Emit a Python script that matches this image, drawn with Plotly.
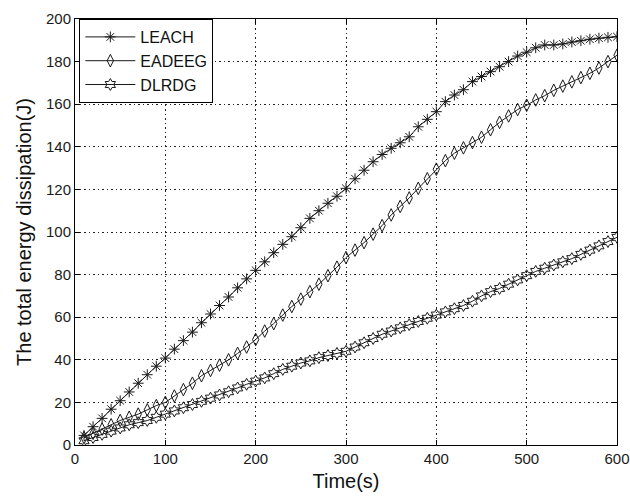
import plotly.graph_objects as go

# Time axis (s)
time_s = [10, 20, 30, 40, 50, 60, 70, 80, 90, 100,
          110, 120, 130, 140, 150, 160, 170, 180, 190, 200,
          210, 220, 230, 240, 250, 260, 270, 280, 290, 300,
          310, 320, 330, 340, 350, 360, 370, 380, 390, 400,
          410, 420, 430, 440, 450, 460, 470, 480, 490, 500,
          510, 520, 530, 540, 550, 560, 570, 580, 590, 600]

leach = [4.5, 8.6, 12.5, 16.8, 20.8, 24.9, 29.0, 33.0, 37.0, 40.8,
         45.0, 49.0, 53.0, 57.4, 61.5, 65.5, 69.5, 73.8, 78.0, 82.0,
         86.0, 90.3, 94.2, 97.8, 102.0, 106.4, 110.0, 113.5, 116.8, 120.5,
         125.0, 129.0, 133.0, 136.4, 139.3, 141.9, 144.7, 149.4, 152.9, 156.5,
         161.2, 164.3, 166.8, 170.6, 173.0, 175.3, 177.6, 180.0, 182.6, 184.4,
         186.5, 187.8, 187.8, 188.3, 189.2, 189.8, 190.5, 191.0, 191.4, 191.7]

eadeeg = [3.5, 5.5, 7.5, 9.5, 11.5, 13.0, 14.5, 16.5, 18.5, 20.0,
          23.0, 26.0, 29.0, 32.5, 35.0, 37.5, 40.0, 43.0, 46.0, 49.5,
          53.5, 57.0, 61.0, 65.0, 68.5, 72.0, 75.5, 79.5, 83.5, 88.0,
          91.5, 95.0, 99.0, 103.0, 108.0, 112.0, 116.0, 120.5, 125.0, 129.5,
          133.5, 137.0, 139.5, 142.0, 144.5, 148.0, 151.5, 154.5, 157.5, 159.5,
          162.0, 164.0, 166.5, 168.5, 170.5, 172.5, 174.5, 177.0, 180.0, 183.0]

dlrdg = [2.0, 3.5, 5.0, 6.5, 8.0, 9.5, 10.5, 11.5, 13.0, 14.5,
         16.0, 17.5, 19.0, 20.5, 22.0, 23.5, 25.0, 26.8, 28.5, 30.0,
         31.5, 33.5, 35.5, 37.0, 38.5, 39.5, 41.0, 42.0, 43.0, 44.0,
         46.0, 48.0, 50.0, 52.0, 53.5, 55.0, 56.5, 58.0, 59.5, 61.0,
         62.5, 64.0, 65.5, 67.5, 70.0, 72.0, 73.5, 75.5, 77.5, 79.5,
         81.5, 83.0, 84.5, 86.0, 87.5, 89.5, 91.5, 93.5, 95.5, 97.5]

x_ticks = [0, 100, 200, 300, 400, 500, 600]
y_ticks = [0, 20, 40, 60, 80, 100, 120, 140, 160, 180, 200]

FONT = "Liberation Sans, Arial, sans-serif"
INK = "#1a1a1a"

fig = go.Figure()
series = [
    ("LEACH", leach, "asterisk-open", 9),
    ("EADEEG", eadeeg, "diamond-tall-open", 9),
    ("DLRDG", dlrdg, "hexagram-open", 9),
]
for name, vals, sym, sz in series:
    fig.add_trace(go.Scatter(
        x=time_s, y=vals, name=name, mode="lines+markers",
        line=dict(color=INK, width=1),
        marker=dict(symbol=sym, size=sz, color=INK,
                    line=dict(color=INK, width=1)),
    ))

axis_common = dict(
    showline=True, linecolor="black", linewidth=1, mirror="ticks",
    ticks="inside", ticklen=5, tickcolor="black", tickwidth=1,
    showgrid=True, gridcolor="#222222", gridwidth=1, griddash="1.5px,3px",
    zeroline=False, automargin=False,
    tickfont=dict(family=FONT, size=15, color="#1a1a1a"),
)

fig.update_xaxes(range=[0, 600], tickvals=x_ticks,
                 title=dict(text="Time(s)", font=dict(family=FONT, size=20, color="#111111"),
                            standoff=7),
                 **axis_common)
fig.update_yaxes(range=[0, 200], tickvals=y_ticks,
                 title=dict(text="The total energy dissipation(J)",
                            font=dict(family=FONT, size=20, color="#111111"),
                            standoff=8),
                 **axis_common)

fig.update_layout(
    width=630, height=499,
    margin=dict(l=75, r=13, t=19, b=54),
    plot_bgcolor="white", paper_bgcolor="white",
    legend=dict(x=0.008, y=1.0, xanchor="left", yanchor="top",
                bgcolor="white", bordercolor="black", borderwidth=1,
                font=dict(family=FONT, size=16, color="#111111"),
                itemwidth=50, tracegroupgap=0),
    showlegend=True,
)

fig.write_html("out.html")
